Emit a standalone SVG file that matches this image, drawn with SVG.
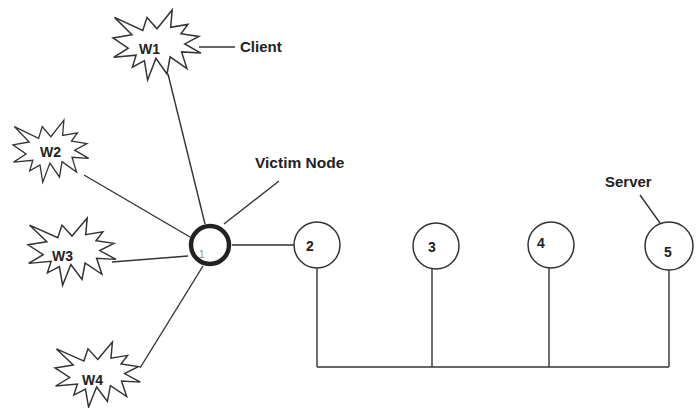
<svg xmlns="http://www.w3.org/2000/svg" xmlns:xlink="http://www.w3.org/1999/xlink" width="698" height="408" viewBox="0 0 698 408">
<style>
.bg{fill:#fff}
.ln{stroke:#333;stroke-width:1.4;fill:none}
.star{fill:#fff;stroke:#333;stroke-width:1.5;stroke-linejoin:miter}
.node{fill:#fff;stroke:#333;stroke-width:1.5}
.victim{fill:#fff;stroke:#222;stroke-width:4.5}
.t{font-family:"Liberation Sans",Arial,sans-serif;font-weight:bold;font-size:14px;fill:#222}
.lbl{font-family:"Liberation Sans",Arial,sans-serif;font-weight:bold;font-size:15px;fill:#222}
.small{font-family:"Liberation Sans",Arial,sans-serif;font-size:10px;fill:#888}
</style>
<defs>
<path id="burst" d="M44,18.8 L59.2,0 L57.7,17.3 L74.9,14.4 L68,23.7 L85.9,26.4 L71.7,33.9 L88,43.1 L68.6,41.9 L73.9,58.6 L57.1,46.9 L54,64 L42.9,48.4 L34.6,70 L31.4,50.6 L19.4,57.1 L23.1,45.2 L0.6,47.3 L15.2,38.2 L0,27.9 L18.9,24.7 L1.5,7.4 L29.8,20.5 L34,7.4 Z"/>
</defs>
<rect class="bg" x="0" y="0" width="698" height="408"/>
<g id="connectors">
<line class="ln" x1="168" y1="74" x2="205" y2="224"/>
<line class="ln" x1="84" y1="175" x2="190" y2="237"/>
<line class="ln" x1="112" y1="262" x2="188" y2="256"/>
<line class="ln" x1="140" y1="368" x2="203" y2="266"/>
<line class="ln" x1="232" y1="245" x2="295" y2="245"/>
<line class="ln" x1="199" y1="47" x2="235" y2="47"/>
<line class="ln" x1="224" y1="224" x2="279" y2="181"/>
<line class="ln" x1="640" y1="195" x2="660" y2="223"/>
<line class="ln" x1="317" y1="268" x2="317" y2="367"/>
<line class="ln" x1="432" y1="268" x2="432" y2="367"/>
<line class="ln" x1="549" y1="268" x2="549" y2="367"/>
<line class="ln" x1="669" y1="269" x2="669" y2="367"/>
<line class="ln" x1="317" y1="367" x2="669" y2="367"/>
</g>
<g id="W1">
<use xlink:href="#burst" class="star" transform="translate(113,10)"/>
<text class="t" x="139" y="54">W1</text>
</g>
<g id="W2">
<use xlink:href="#burst" class="star" transform="translate(13,120) scale(0.86,0.89)"/>
<text class="t" x="40" y="157">W2</text>
</g>
<g id="W3">
<use xlink:href="#burst" class="star" transform="translate(28,218) scale(1,0.96)"/>
<text class="t" x="52" y="261">W3</text>
</g>
<g id="W4">
<use xlink:href="#burst" class="star" transform="translate(55,342) scale(0.97,0.93)"/>
<text class="t" x="82" y="385">W4</text>
</g>
<g id="client-label"><text class="lbl" x="240" y="52">Client</text></g>
<g id="victim-label"><text class="lbl" x="255" y="168" style="font-size:15.5px">Victim Node</text></g>
<g id="server-label"><text class="lbl" x="605" y="187">Server</text></g>
<g id="n1">
<circle class="victim" cx="210" cy="245" r="19"/>
<text class="small" x="199" y="258">1</text>
</g>
<g id="n2">
<circle class="node" cx="317" cy="245" r="23"/>
<text class="t" x="306" y="251">2</text>
</g>
<g id="n3">
<circle class="node" cx="436" cy="246" r="23"/>
<text class="t" x="428" y="252">3</text>
</g>
<g id="n4">
<circle class="node" cx="551" cy="245" r="23"/>
<text class="t" x="537" y="248">4</text>
</g>
<g id="n5">
<circle class="node" cx="669" cy="246" r="24"/>
<text class="t" x="664" y="257">5</text>
</g>
</svg>
